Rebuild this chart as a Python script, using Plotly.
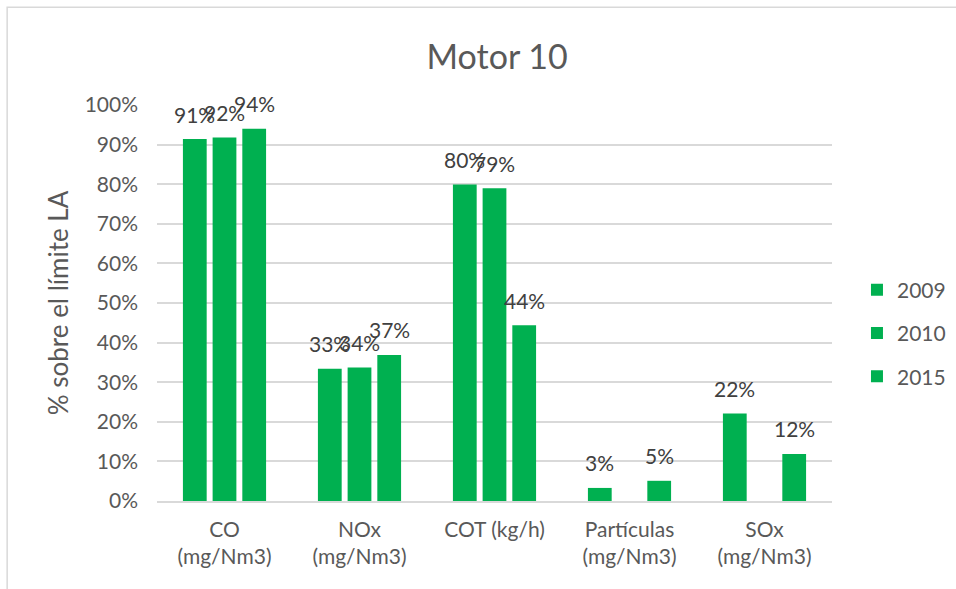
import plotly.graph_objects as go

categories = ["CO<br>(mg/Nm3)", "NOx<br>(mg/Nm3)", "COT (kg/h)", "Partículas<br>(mg/Nm3)", "SOx<br>(mg/Nm3)"]
series_names = ["2009", "2010", "2015"]
v2009 = [0.914, 0.334, 0.799, 0.033, 0.221]
v2010 = [0.918, 0.337, 0.790, None, None]
v2015 = [0.940, 0.369, 0.444, 0.051, 0.119]
y_ticks = [0, 0.1, 0.2, 0.3, 0.4, 0.5, 0.6, 0.7, 0.8, 0.9, 1.0]

GREEN = "#00B050"
FONT = "Lato, 'Open Sans', sans-serif"

fig = go.Figure()
annotations = []
slot_px = 29.7
for i, (name, vals) in enumerate(zip(series_names, [v2009, v2010, v2015])):
    fig.add_trace(go.Bar(
        x=categories, y=vals, name=name, legendgroup=name,
        marker=dict(color=GREEN, line=dict(width=0)),
    ))
    for cat, v in zip(categories, vals):
        if v is None:
            continue
        annotations.append(dict(
            x=cat, y=v, xref="x", yref="y", text=f"{round(v*100):d}%",
            showarrow=False, xshift=(i - 1) * slot_px, yshift=25, yanchor="middle",
            font=dict(size=21, color="#404040", family=FONT),
        ))

fig.update_layout(
    width=956, height=589,
    paper_bgcolor="white", plot_bgcolor="white",
    margin=dict(l=157, r=124, t=105, b=88, autoexpand=False),
    barmode="group", bargap=0.34, bargroupgap=0.2,
    font=dict(family=FONT, color="#595959"),
    title=dict(text="Motor 10", x=0.52, xanchor="center", y=0.903, yanchor="middle",
               font=dict(size=34, color="#595959", family=FONT)),
    legend=dict(x=1.037, y=0.424, xanchor="left", yanchor="middle",
                font=dict(size=21, color="#595959", family=FONT),
                tracegroupgap=13, itemwidth=30),
    showlegend=True,
    annotations=annotations,
    yaxis=dict(range=[0, 1.0], tickvals=y_ticks, tickformat=".0%", automargin=False,
               showgrid=True, gridcolor="#D9D9D9", gridwidth=1.5,
               zeroline=False, showline=False, ticks="", ticklabelstandoff=18,
               tickfont=dict(size=21, color="#595959"),
               title=dict(text="% sobre el límite LA", font=dict(size=26, color="#595959"), standoff=8)),
    xaxis=dict(showline=True, linecolor="#D9D9D9", linewidth=1.5, ticks="", automargin=False,
               ticklabelstandoff=9,
               tickfont=dict(size=21, color="#595959")),
    shapes=[dict(type="rect", xref="paper", yref="paper",
                 x0=-0.222, x1=1.4, y0=-0.4, y1=1.247,
                 line=dict(color="#D9D9D9", width=1.5), fillcolor="rgba(0,0,0,0)", layer="below")],
)

fig.write_html("out.html", config={"displayModeBar": False},
               post_script="document.body.style.margin='0';")
